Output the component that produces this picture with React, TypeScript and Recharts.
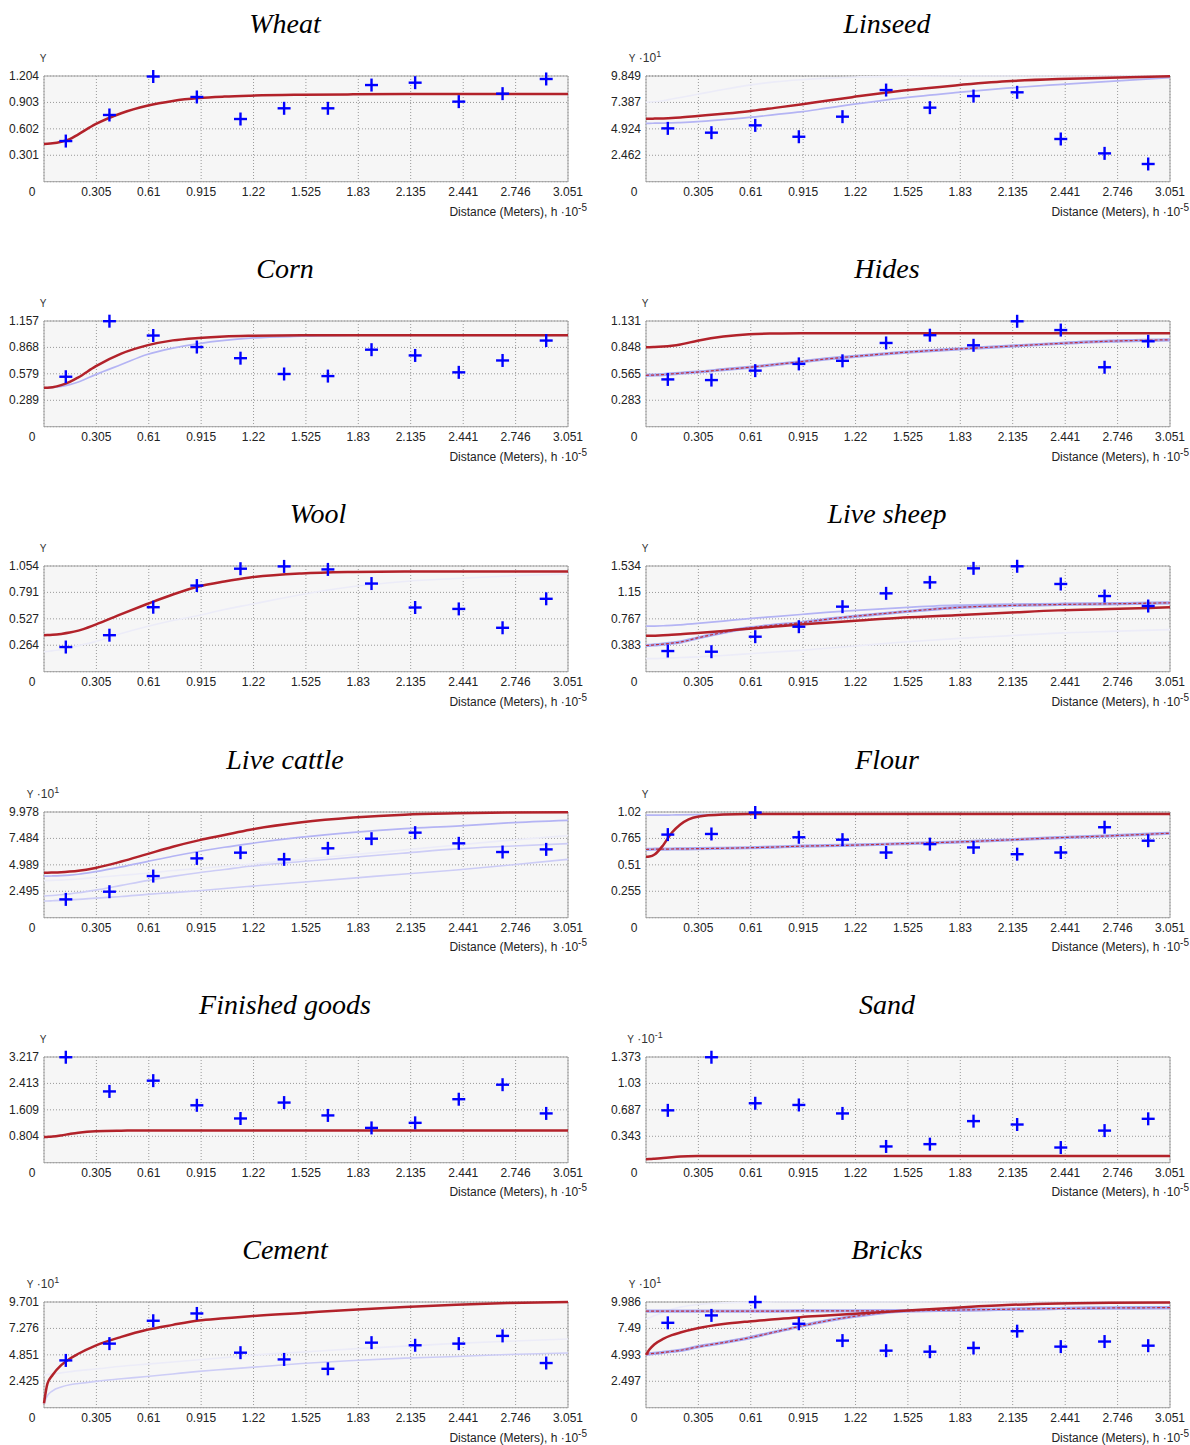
import { ComposedChart, Line, Scatter, XAxis, YAxis, CartesianGrid, ReferenceArea } from 'recharts';

// shared axes
const X_TICKS = [0, 0.305, 0.61, 0.915, 1.22, 1.525, 1.83, 2.135, 2.441, 2.746, 3.051];
const POINT_X = [0.127, 0.381, 0.636, 0.89, 1.144, 1.398, 1.653, 1.907, 2.161, 2.415, 2.67, 2.924];
const CURVE_X = [0, 0.02, 0.05, 0.1, 0.15, 0.2, 0.3, 0.45, 0.6, 0.75, 0.9, 1.05, 1.2, 1.5, 1.8, 2.1, 2.4, 2.7, 3.051];

// Wheat
const WHEAT_Y_TICKS = [0.301, 0.602, 0.903, 1.204];
const WHEAT_PTS = [0.463, 0.76, 1.198, 0.965, 0.714, 0.836, 0.836, 1.101, 1.128, 0.912, 1.003, 1.17];
const WHEAT_FIT = [0.43, 0.432, 0.437, 0.455, 0.485, 0.54, 0.655, 0.78, 0.865, 0.92, 0.953, 0.97, 0.98, 0.99, 0.995, 0.998, 1.0, 1.0, 1.0];

// Linseed
const LINSEED_Y_TICKS = [2.462, 4.924, 7.387, 9.849];
const LINSEED_PTS = [4.97, 4.57, 5.25, 4.19, 6.06, 8.54, 6.9, 7.98, 8.33, 3.98, 2.64, 1.65];
const LINSEED_FIT = [5.87, 5.87, 5.88, 5.9, 5.93, 5.98, 6.12, 6.33, 6.57, 6.88, 7.2, 7.55, 7.88, 8.5, 8.97, 9.35, 9.56, 9.68, 9.82];
const LINSEED_ALT = [5.44, 5.44, 5.45, 5.46, 5.48, 5.51, 5.59, 5.78, 5.99, 6.25, 6.5, 6.85, 7.2, 7.82, 8.3, 8.72, 9.05, 9.35, 9.69];
const LINSEED_FAINT = [7.4, 7.42, 7.45, 7.55, 7.7, 7.85, 8.15, 8.6, 9.0, 9.3, 9.5, 9.65, 9.74, 9.82, 9.85, 9.85, 9.85, 9.85, 9.85];

// Corn
const CORN_Y_TICKS = [0.289, 0.579, 0.868, 1.157];
const CORN_PTS = [0.547, 1.155, 0.998, 0.872, 0.75, 0.577, 0.554, 0.843, 0.78, 0.595, 0.725, 0.943];
const CORN_FIT = [0.425, 0.427, 0.433, 0.455, 0.49, 0.54, 0.66, 0.8, 0.89, 0.945, 0.972, 0.988, 0.995, 1.0, 1.0, 1.0, 1.0, 1.0, 1.0];
const CORN_ALT = [0.425, 0.426, 0.43, 0.44, 0.46, 0.49, 0.57, 0.68, 0.79, 0.86, 0.91, 0.945, 0.97, 0.99, 1.0, 1.0, 1.0, 1.0, 1.0];

// Hides
const HIDES_Y_TICKS = [0.283, 0.565, 0.848, 1.131];
const HIDES_PTS = [0.506, 0.499, 0.6, 0.672, 0.705, 0.896, 0.979, 0.871, 1.128, 1.034, 0.636, 0.914];
const HIDES_FIT = [0.85, 0.85, 0.852, 0.858, 0.867, 0.88, 0.92, 0.965, 0.99, 0.997, 1.0, 1.0, 1.0, 1.0, 1.0, 1.0, 1.0, 1.0, 1.0];
const HIDES_DASHED = [0.55, 0.551, 0.553, 0.558, 0.565, 0.572, 0.585, 0.61, 0.635, 0.665, 0.695, 0.725, 0.75, 0.795, 0.83, 0.86, 0.89, 0.915, 0.93];

// Wool
const WOOL_Y_TICKS = [0.264, 0.527, 0.791, 1.054];
const WOOL_PTS = [0.246, 0.364, 0.643, 0.859, 1.027, 1.05, 1.02, 0.879, 0.64, 0.626, 0.438, 0.727];
const WOOL_FIT = [0.364, 0.365, 0.368, 0.377, 0.39, 0.41, 0.47, 0.575, 0.675, 0.77, 0.85, 0.9, 0.94, 0.98, 0.995, 1.0, 1.0, 1.0, 1.0];
const WOOL_FAINT = [0.2, 0.202, 0.21, 0.22, 0.24, 0.26, 0.3, 0.38, 0.45, 0.51, 0.56, 0.62, 0.67, 0.77, 0.85, 0.9, 0.93, 0.955, 0.975];

// Live sheep
const SHEEP_Y_TICKS = [0.383, 0.767, 1.15, 1.534];
const SHEEP_PTS = [0.3, 0.29, 0.508, 0.653, 0.944, 1.137, 1.297, 1.5, 1.53, 1.273, 1.098, 0.953];
const SHEEP_FIT = [0.52, 0.521, 0.523, 0.528, 0.535, 0.542, 0.56, 0.59, 0.625, 0.655, 0.685, 0.71, 0.735, 0.785, 0.82, 0.855, 0.89, 0.91, 0.935];
const SHEEP_DASHED = [0.38, 0.383, 0.39, 0.4, 0.415, 0.43, 0.49, 0.57, 0.635, 0.675, 0.71, 0.76, 0.8, 0.87, 0.93, 0.96, 0.975, 0.985, 1.0];
const SHEEP_ALT = [0.66, 0.66, 0.662, 0.667, 0.672, 0.68, 0.7, 0.735, 0.77, 0.8, 0.83, 0.86, 0.885, 0.93, 0.965, 0.98, 0.99, 0.995, 1.0];
const SHEEP_FAINT = [0.19, 0.19, 0.19, 0.195, 0.2, 0.205, 0.215, 0.235, 0.26, 0.285, 0.31, 0.34, 0.37, 0.43, 0.48, 0.52, 0.56, 0.585, 0.61];

// Live cattle
const CATTLE_Y_TICKS = [2.495, 4.989, 7.484, 9.978];
const CATTLE_PTS = [1.73, 2.455, 3.93, 5.6, 6.14, 5.51, 6.55, 7.46, 8.03, 7.02, 6.2, 6.45];
const CATTLE_FIT = [4.25, 4.25, 4.26, 4.29, 4.35, 4.43, 4.7, 5.3, 6.0, 6.7, 7.3, 7.8, 8.3, 9.0, 9.45, 9.73, 9.85, 9.92, 9.95];
const CATTLE_ALT_A = [3.93, 3.93, 3.94, 3.97, 4.02, 4.1, 4.35, 4.8, 5.3, 5.8, 6.25, 6.65, 7.0, 7.6, 8.05, 8.4, 8.65, 8.95, 9.19];
const CATTLE_ALT_B = [2.05, 2.07, 2.1, 2.17, 2.25, 2.35, 2.6, 3.05, 3.5, 3.9, 4.25, 4.55, 4.85, 5.3, 5.7, 6.1, 6.5, 6.75, 6.99];
const CATTLE_ALT_C = [1.57, 1.58, 1.6, 1.64, 1.69, 1.73, 1.85, 2.0, 2.2, 2.37, 2.55, 2.76, 2.96, 3.35, 3.74, 4.13, 4.5, 4.95, 5.51];
const CATTLE_FAINT = [3.5, 3.5, 3.52, 3.55, 3.6, 3.65, 3.8, 4.0, 4.2, 4.45, 4.65, 4.85, 5.05, 5.5, 5.95, 6.4, 6.85, 7.3, 7.75];

// Flour
const FLOUR_Y_TICKS = [0.255, 0.51, 0.765, 1.02];
const FLOUR_PTS = [0.802, 0.808, 1.015, 0.776, 0.753, 0.629, 0.71, 0.678, 0.613, 0.629, 0.873, 0.743];
const FLOUR_FIT = [0.587, 0.59, 0.61, 0.7, 0.82, 0.9, 0.975, 0.995, 1.0, 1.0, 1.0, 1.0, 1.0, 1.0, 1.0, 1.0, 1.0, 1.0, 1.0];
const FLOUR_ALT = [0.99, 0.99, 0.99, 0.99, 0.991, 0.992, 0.994, 0.997, 1.0, 1.0, 1.0, 1.0, 1.0, 1.0, 1.0, 1.0, 1.0, 1.0, 1.0];
const FLOUR_DASHED = [0.66, 0.66, 0.661, 0.662, 0.663, 0.664, 0.666, 0.67, 0.675, 0.682, 0.69, 0.695, 0.7, 0.715, 0.73, 0.75, 0.772, 0.79, 0.815];

// Finished goods
const GOODS_Y_TICKS = [0.804, 1.609, 2.413, 3.217];
const GOODS_PTS = [3.21, 2.169, 2.497, 1.747, 1.346, 1.83, 1.439, 1.059, 1.213, 1.932, 2.374, 1.5];
const GOODS_FIT = [0.78, 0.785, 0.795, 0.83, 0.875, 0.915, 0.96, 0.975, 0.98, 0.98, 0.98, 0.98, 0.98, 0.98, 0.98, 0.98, 0.98, 0.98, 0.98];

// Sand
const SAND_Y_TICKS = [0.343, 0.687, 1.03, 1.373];
const SAND_PTS = [0.68, 1.37, 0.772, 0.75, 0.64, 0.211, 0.241, 0.54, 0.496, 0.197, 0.417, 0.57];
const SAND_FIT = [0.045, 0.047, 0.052, 0.062, 0.072, 0.08, 0.086, 0.088, 0.088, 0.088, 0.088, 0.088, 0.088, 0.088, 0.088, 0.088, 0.088, 0.088, 0.088];

// Cement
const CEMENT_Y_TICKS = [2.425, 4.851, 7.276, 9.701];
const CEMENT_PTS = [4.34, 5.88, 7.98, 8.65, 5.05, 4.43, 3.57, 5.97, 5.73, 5.88, 6.59, 4.1];
const CEMENT_FIT = [0.4, 2.2, 3.0, 3.9, 4.5, 4.95, 5.7, 6.5, 7.15, 7.6, 8.0, 8.2, 8.4, 8.7, 9.0, 9.25, 9.45, 9.6, 9.7];
const CEMENT_ALT = [0.34, 1.1, 1.55, 1.9, 2.1, 2.22, 2.42, 2.65, 2.87, 3.1, 3.33, 3.52, 3.7, 4.05, 4.33, 4.55, 4.7, 4.88, 5.02];
const CEMENT_FAINT = [3.0, 3.05, 3.1, 3.2, 3.3, 3.4, 3.55, 3.8, 4.0, 4.2, 4.4, 4.6, 4.8, 5.1, 5.4, 5.65, 5.9, 6.1, 6.3];

// Bricks
const BRICKS_Y_TICKS = [2.497, 4.993, 7.49, 9.986];
const BRICKS_PTS = [8.02, 8.72, 9.98, 7.93, 6.34, 5.39, 5.29, 5.64, 7.23, 5.77, 6.25, 5.86];
const BRICKS_FIT = [5.0, 5.5, 6.0, 6.5, 6.85, 7.1, 7.5, 7.9, 8.15, 8.35, 8.55, 8.7, 8.85, 9.15, 9.45, 9.7, 9.85, 9.92, 9.95];
const BRICKS_DASHED_A = [9.13, 9.13, 9.13, 9.13, 9.13, 9.13, 9.13, 9.13, 9.13, 9.13, 9.14, 9.14, 9.15, 9.17, 9.22, 9.3, 9.37, 9.42, 9.45];
const BRICKS_DASHED_B = [5.07, 5.09, 5.13, 5.22, 5.32, 5.42, 5.75, 6.15, 6.6, 7.15, 7.7, 8.2, 8.6, 9.13, 9.22, 9.3, 9.37, 9.42, 9.45];
const BRICKS_FAINT = [8.4, 8.5, 8.7, 9.0, 9.3, 9.5, 9.75, 9.9, 9.97, 9.98, 9.98, 9.98, 9.98, 9.98, 9.98, 9.98, 9.98, 9.98, 9.98];

type CurveStyle = 'fit' | 'alt' | 'soft' | 'faint' | 'dashed';

const PANELS: { title: string; titleX: number; exp: string | null; yTicks: number[]; points: number[]; curves: [CurveStyle, number[]][] }[] = [
  { title: 'Wheat', titleX: 285, exp: null, yTicks: WHEAT_Y_TICKS, points: WHEAT_PTS, curves: [['fit', WHEAT_FIT]] },
  { title: 'Linseed', titleX: 285, exp: '1', yTicks: LINSEED_Y_TICKS, points: LINSEED_PTS, curves: [['faint', LINSEED_FAINT], ['alt', LINSEED_ALT], ['fit', LINSEED_FIT]] },
  { title: 'Corn', titleX: 285, exp: null, yTicks: CORN_Y_TICKS, points: CORN_PTS, curves: [['alt', CORN_ALT], ['fit', CORN_FIT]] },
  { title: 'Hides', titleX: 285, exp: null, yTicks: HIDES_Y_TICKS, points: HIDES_PTS, curves: [['dashed', HIDES_DASHED], ['fit', HIDES_FIT]] },
  { title: 'Wool', titleX: 318, exp: null, yTicks: WOOL_Y_TICKS, points: WOOL_PTS, curves: [['faint', WOOL_FAINT], ['fit', WOOL_FIT]] },
  { title: 'Live sheep', titleX: 285, exp: null, yTicks: SHEEP_Y_TICKS, points: SHEEP_PTS, curves: [['faint', SHEEP_FAINT], ['alt', SHEEP_ALT], ['dashed', SHEEP_DASHED], ['fit', SHEEP_FIT]] },
  { title: 'Live cattle', titleX: 285, exp: '1', yTicks: CATTLE_Y_TICKS, points: CATTLE_PTS, curves: [['faint', CATTLE_FAINT], ['alt', CATTLE_ALT_A], ['soft', CATTLE_ALT_B], ['soft', CATTLE_ALT_C], ['fit', CATTLE_FIT]] },
  { title: 'Flour', titleX: 285, exp: null, yTicks: FLOUR_Y_TICKS, points: FLOUR_PTS, curves: [['alt', FLOUR_ALT], ['dashed', FLOUR_DASHED], ['fit', FLOUR_FIT]] },
  { title: 'Finished goods', titleX: 285, exp: null, yTicks: GOODS_Y_TICKS, points: GOODS_PTS, curves: [['fit', GOODS_FIT]] },
  { title: 'Sand', titleX: 285, exp: '-1', yTicks: SAND_Y_TICKS, points: SAND_PTS, curves: [['fit', SAND_FIT]] },
  { title: 'Cement', titleX: 285, exp: '1', yTicks: CEMENT_Y_TICKS, points: CEMENT_PTS, curves: [['faint', CEMENT_FAINT], ['soft', CEMENT_ALT], ['fit', CEMENT_FIT]] },
  { title: 'Bricks', titleX: 285, exp: '1', yTicks: BRICKS_Y_TICKS, points: BRICKS_PTS, curves: [['faint', BRICKS_FAINT], ['dashed', BRICKS_DASHED_A], ['dashed', BRICKS_DASHED_B], ['fit', BRICKS_FIT]] },
];

const COL_STEP = 602;
const ROW_STEP = 245.2;
const SANS = 'Liberation Sans, Arial, sans-serif';

const XTick = (props: any) => {
  const { x, y, payload } = props;
  return (
    <text x={payload.value === 0 ? x - 12 : x} y={y + 14} textAnchor="middle" fontFamily={SANS} fontSize={12} fill="#222">
      {payload.value}
    </text>
  );
};

const YTick = (props: any) => {
  const { x, y, payload } = props;
  return (
    <text x={x - 5} y={y + 4} textAnchor="end" fontFamily={SANS} fontSize={12} fill="#222">
      {payload.value}
    </text>
  );
};

const PlusShape = (props: any) => {
  const { cx, cy } = props;
  return (
    <g>
      <line x1={cx - 6.5} x2={cx + 6.5} y1={cy} y2={cy} stroke="#0000ff" strokeWidth={2.4} />
      <line x1={cx} x2={cx} y1={cy - 6.5} y2={cy + 6.5} stroke="#0000ff" strokeWidth={2.4} />
    </g>
  );
};

const toCurve = (ys: number[]) => CURVE_X.map((x, i) => ({ x, y: ys[i] }));
const toPoints = (ys: number[]) => POINT_X.map((x, i) => ({ x, y: ys[i] }));

function renderCurve(style: CurveStyle, ys: number[], key: number) {
  const data = toCurve(ys);
  const common = { data, dataKey: 'y', type: 'monotone' as const, dot: false, activeDot: false, isAnimationActive: false };
  if (style === 'fit') return [<Line key={key} {...common} stroke="#b2222a" strokeWidth={2.5} />];
  if (style === 'alt') return [<Line key={key} {...common} stroke="#b4b4f4" strokeWidth={1.7} />];
  if (style === 'soft') return [<Line key={key} {...common} stroke="#cdcdf6" strokeWidth={1.6} />];
  if (style === 'faint') return [<Line key={key} {...common} stroke="#ececf8" strokeWidth={1.6} />];
  return [
    <Line key={key + '-base'} {...common} stroke="#a8a8f0" strokeWidth={3.2} />,
    <Line key={key + '-dash'} {...common} stroke="#c03040" strokeWidth={1.2} strokeDasharray="3 2" />,
  ];
}

function Panel({ p, left, top }: { p: (typeof PANELS)[number]; left: number; top: number }) {
  const yMax = p.yTicks[p.yTicks.length - 1];
  return (
    <div style={{ position: 'absolute', left, top }}>
      <ComposedChart width={600} height={245} margin={{ top: 76, right: 32, bottom: 33.3, left: 0 }}>
        <CartesianGrid stroke="#999" strokeDasharray="1 2" fill="#f6f6f6" fillOpacity={1} />
        <XAxis dataKey="x" type="number" domain={[0, 3.051]} ticks={X_TICKS} interval={0} axisLine={false} tickLine={false} tickSize={0} tickMargin={0} height={30} tick={XTick} />
        <YAxis type="number" domain={[0, yMax]} ticks={p.yTicks} interval={0} width={44} axisLine={false} tickLine={false} tickSize={0} tickMargin={0} tick={YTick} />
        <ReferenceArea x1={0} x2={3.051} y1={0} y2={yMax} fill="none" stroke="#a0a0a0" strokeWidth={1} ifOverflow="visible" />
        {p.curves.flatMap(([style, ys], i) => renderCurve(style, ys, i))}
        <Scatter data={toPoints(p.points)} dataKey="y" shape={PlusShape} isAnimationActive={false} />
      </ComposedChart>
    </div>
  );
}

export default function App() {
  return (
    <div style={{ position: 'absolute', left: 0, top: 0, width: 1190, height: 1445, background: '#fff' }}>
      {PANELS.map((p, i) => (
        <Panel key={p.title} p={p} left={(i % 2) * COL_STEP} top={Math.floor(i / 2) * ROW_STEP} />
      ))}
      <svg width={1190} height={1445} style={{ position: 'absolute', left: 0, top: 0, pointerEvents: 'none' }}>
        {PANELS.map((p, i) => {
          const ox = (i % 2) * COL_STEP;
          const oy = Math.floor(i / 2) * ROW_STEP;
          return (
            <g key={p.title}>
              <text x={ox + p.titleX} y={oy + 33} textAnchor="middle" fontFamily="Liberation Serif, Times New Roman, serif" fontStyle="italic" fontSize={28} fill="#000">
                {p.title}
              </text>
              <text x={ox + 43} y={oy + 62} textAnchor="middle" fontFamily={SANS} fontSize={10} fill="#333">
                Y
                {p.exp !== null && <tspan fontSize={12}> ·10</tspan>}
                {p.exp !== null && <tspan fontSize={9} dy={-5}>{p.exp}</tspan>}
              </text>
              <text x={ox + 587} y={oy + 215.5} textAnchor="end" fontFamily={SANS} fontSize={12} fill="#222">
                Distance (Meters), h ·10
                <tspan fontSize={10} dy={-5}>-5</tspan>
              </text>
            </g>
          );
        })}
      </svg>
    </div>
  );
}
